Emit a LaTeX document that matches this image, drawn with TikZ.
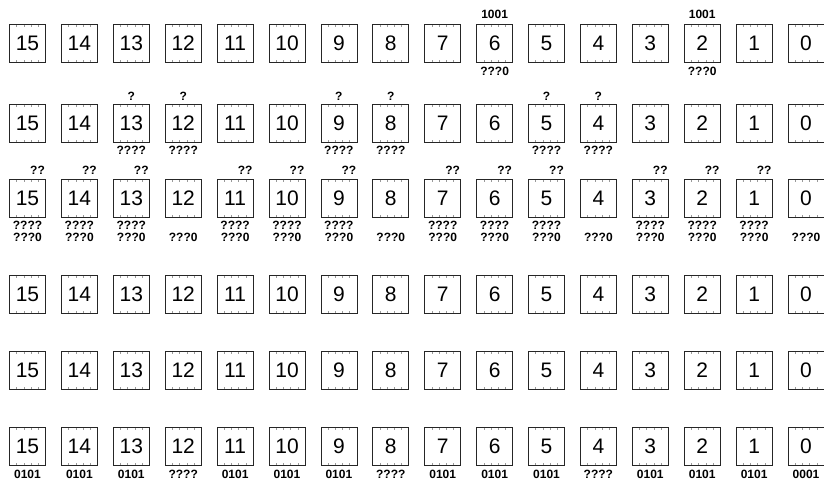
\documentclass[tikz,border=0pt]{standalone}
\usepackage{fontspec}
\setmainfont{Liberation Sans}
\usepackage{tikz}
\usetikzlibrary{positioning,calc}
\tikzset{
    cell/.style={rectangle, draw=black!85, line width=0.8pt, minimum width=36pt, minimum height=38pt, inner sep=0pt, fill=white, font=\fontsize{21}{24}\selectfont,
        path picture={\foreach \t in {0.2,0.4,0.6,0.8} {
            \draw[black!40, line width=0.5pt] ($(path picture bounding box.north west)!\t!(path picture bounding box.north east)$) -- ++(0,-2.5pt);
            \draw[black!40, line width=0.5pt] ($(path picture bounding box.south west)!\t!(path picture bounding box.south east)$) -- ++(0,2.5pt);}}},
    tag/.style={inner sep=0pt, font=\fontsize{12}{13}\selectfont\bfseries},
}

\begin{document}
\begin{tikzpicture}[x=1pt, y=-1pt, node distance=4pt]
    \useasboundingbox (0,0) rectangle (824,483);

    % six rows of sixteen cells, 15 down to 0
    \foreach \r/\yy in {1/43, 2/123, 3/198, 4/294, 5/370, 6/446}
        \foreach \n [count=\i from 0] in {15,14,...,0}
            \node[cell] (r\r b\n) at ({27.5+51.9*\i},\yy) {\n};

    % row 1
    \foreach \n in {6, 2} {
        \node[tag, above=5pt of r1b\n] (r1u\n) {1001};
        \node[tag, below=5pt of r1b\n] (r1d\n) {???0};
    }

    % row 2
    \foreach \n in {13, 12, 9, 8, 5, 4} {
        \node[tag, above=3pt of r2b\n] (r2u\n) {?};
        \node[tag, below=4pt of r2b\n] (r2d\n) {????};
    }

    % row 3
    \foreach \n in {15, 14, 13, 11, 10, 9, 7, 6, 5, 3, 2, 1} {
        \node[tag, above=4pt of r3b\n, xshift=10pt] (r3u\n) {??};
        \node[tag, below=4pt of r3b\n] (r3d\n) {????};
        \node[tag, below=3pt of r3d\n] (r3e\n) {???0};
    }
    \foreach \n in {12, 8, 4, 0}
        \node[tag, below=16pt of r3b\n] (r3e\n) {???0};

    % row 6
    \foreach \n/\s in {15/0101, 14/0101, 13/0101, 12/????, 11/0101, 10/0101, 9/0101, 8/????,
                       7/0101, 6/0101, 5/0101, 4/????, 3/0101, 2/0101, 1/0101, 0/0001}
        \node[tag, below=5pt of r6b\n] (r6d\n) {\s};
\end{tikzpicture}
\end{document}
